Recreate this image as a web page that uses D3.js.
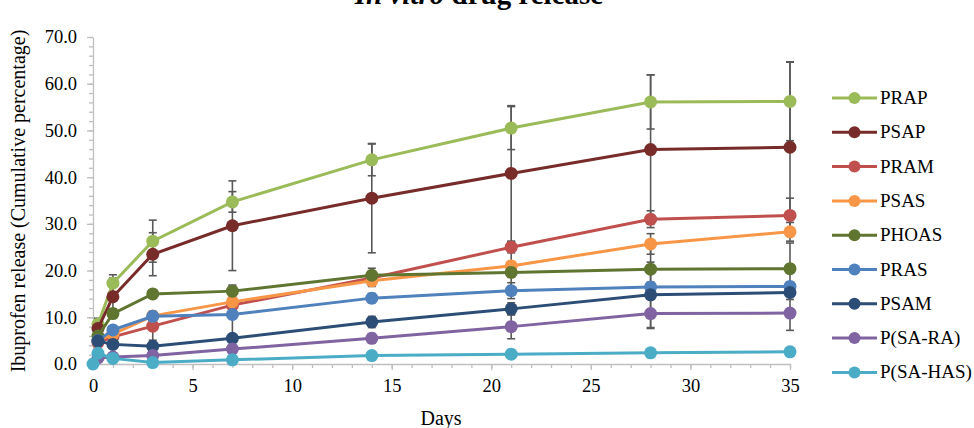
<!DOCTYPE html>
<html>
<head>
<meta charset="utf-8">
<script src="https://cdn.jsdelivr.net/npm/d3@7"></script>
<style>
  body { margin: 0; background: #fff; }
  svg, svg text { font-family: "Liberation Serif", "Times New Roman", Times, "DejaVu Serif", serif !important; }
  .axis path, .axis line { stroke: #bfbfbf; stroke-width: 1.3; }
  .axis text { fill: #000; font-size: 18.5px; }
</style>
</head>
<body>
<script>
// sampling days (first point is a few hours after start)
var days = [0, 0.25, 1, 3, 7, 14, 21, 28, 35];

var seriesNames = ["PRAP", "PSAP", "PRAM", "PSAS", "PHOAS", "PRAS", "PSAM", "P(SA-RA)", "P(SA-HAS)"];
var seriesColors = ["#9bbb59", "#772c2a", "#c0504d", "#f79646", "#5f7530", "#4f81bd", "#2c4d75", "#8064a2", "#4bacc6"];

// cumulative release %, null = no point
var prap    = [null, 8.5, 17.3, 26.3, 34.7, 43.7, 50.5, 56.1, 56.2];
var psap    = [null, 7.6, 14.4, 23.5, 29.6, 35.5, 40.8, 45.9, 46.4];
var pram    = [null, 4.6, 5.8, 8.1, 12.6, 18.4, 25.0, 31.0, 31.8];
var psas    = [null, 5.0, 6.4, 10.3, 13.3, 17.8, 21.0, 25.7, 28.3];
var phoas   = [null, 6.0, 10.8, 15.0, 15.6, 19.0, 19.6, 20.3, 20.4];
var pras    = [null, 5.0, 7.3, 10.2, 10.6, 14.1, 15.7, 16.5, 16.6];
var psam    = [null, 4.9, 4.2, 3.8, 5.5, 9.0, 11.8, 14.8, 15.3];
var psara   = [null, 1.3, 1.5, 1.8, 3.2, 5.5, 8.0, 10.8, 10.9];
var psahas  = [0, 2.3, 1.2, 0.3, 0.9, 1.8, 2.1, 2.4, 2.6];

// standard deviation (error bars)
var prapErr   = [0, 1.3, 1.8, 4.5, 2.2, 3.4, 4.6, 5.8, 8.4];
var psapErr   = [0, 1.0, 4.0, 4.6, 9.6, 11.7, 14.5, 16.0, 18.3];
var pramErr   = [0, 0.5, 0.8, 3.0, 2.0, 1.5, 1.2, 1.8, 3.7];
var psasErr   = [0, 0.5, 0.8, 1.0, 3.6, 1.2, 4.8, 2.2, 2.0];
var phoasErr  = [0, 0.8, 1.0, 0.7, 1.0, 1.5, 1.0, 4.5, 5.5];
var prasErr   = [0, 0.5, 0.8, 0.8, 4.8, 1.0, 1.7, 1.0, 1.0];
var psamErr   = [0, 0.5, 0.5, 0.6, 0.8, 1.2, 1.3, 7.0, 1.5];
var psaraErr  = [0, 0.3, 0.3, 0.5, 0.8, 1.0, 2.6, 3.2, 3.7];
var psahasErr = [0, 0.3, 0.3, 0.3, 0.3, 0.3, 0.3, 0.3, 0.3];

var yTicks = [0, 10, 20, 30, 40, 50, 60, 70];
var xTicks = [0, 5, 10, 15, 20, 25, 30, 35];

var allValues = [prap, psap, pram, psas, phoas, pras, psam, psara, psahas];
var allErrors = [prapErr, psapErr, pramErr, psasErr, phoasErr, prasErr, psamErr, psaraErr, psahasErr];

var serif = "'Liberation Serif', 'Times New Roman', Times, 'DejaVu Serif', serif";

var width = 974, height = 428;
var margin = { top: 37, right: 184, bottom: 64, left: 93 };

var svg = d3.select("body").append("svg")
  .attr("width", width)
  .attr("height", height)
  .attr("font-family", serif);

var x = d3.scaleLinear().domain([0, 35]).range([margin.left, width - margin.right]);
var y = d3.scaleLinear().domain([0, 70]).range([height - margin.bottom, margin.top]);

// build series table from arrays
var series = seriesNames.map(function(name, i) {
  return {
    name: name,
    color: seriesColors[i],
    points: days.map(function(d, j) {
      return { day: d, value: allValues[i][j], err: allErrors[i][j] };
    }).filter(function(p) { return p.value !== null; })
  };
});

// minor ticks
svg.append("g")
  .attr("class", "axis")
  .attr("transform", "translate(" + margin.left + ",0)")
  .call(d3.axisLeft(y).ticks(35).tickSize(4).tickFormat(""))
  .select(".domain").remove();
svg.append("g")
  .attr("class", "axis")
  .attr("transform", "translate(0," + y(0) + ")")
  .call(d3.axisBottom(x).ticks(35).tickSize(4).tickFormat(""))
  .select(".domain").remove();

// major axes
var yAxisG = svg.append("g")
  .attr("class", "axis")
  .attr("transform", "translate(" + margin.left + ",0)")
  .call(d3.axisLeft(y).tickValues(yTicks).tickSize(6).tickSizeOuter(0).tickPadding(10)
    .tickFormat(d3.format(".1f")));
var xAxisG = svg.append("g")
  .attr("class", "axis")
  .attr("transform", "translate(0," + y(0) + ")")
  .call(d3.axisBottom(x).tickValues(xTicks).tickSize(6).tickSizeOuter(0).tickPadding(9));
yAxisG.attr("font-family", serif);
xAxisG.attr("font-family", serif);

// error bars
var eb = svg.append("g").attr("stroke", "#595959").attr("stroke-width", 1.6);
series.forEach(function(s) {
  s.points.forEach(function(p) {
    if (!p.err) return;
    var cx = x(p.day);
    eb.append("line").attr("x1", cx).attr("x2", cx)
      .attr("y1", y(p.value - p.err)).attr("y2", y(p.value + p.err));
    [p.value - p.err, p.value + p.err].forEach(function(v) {
      eb.append("line").attr("x1", cx - 4).attr("x2", cx + 4)
        .attr("y1", y(v)).attr("y2", y(v));
    });
  });
});

var line = d3.line()
  .x(function(d) { return x(d.day); })
  .y(function(d) { return y(d.value); });

series.forEach(function(s) {
  var g = svg.append("g");
  g.append("path")
    .attr("d", line(s.points))
    .attr("fill", "none")
    .attr("stroke", s.color)
    .attr("stroke-width", 3);
  g.selectAll("circle").data(s.points).enter().append("circle")
    .attr("cx", function(d) { return x(d.day); })
    .attr("cy", function(d) { return y(d.value); })
    .attr("r", 6.5)
    .attr("fill", s.color);
});

// legend
var legend = svg.append("g");
series.forEach(function(s, i) {
  var ly = 98 + i * 34.3;
  legend.append("line")
    .attr("x1", 832).attr("x2", 877).attr("y1", ly).attr("y2", ly)
    .attr("stroke", s.color).attr("stroke-width", 3);
  legend.append("circle").attr("cx", 854.5).attr("cy", ly).attr("r", 6).attr("fill", s.color);
  legend.append("text")
    .attr("x", 880).attr("y", ly + 6)
    .attr("font-size", 19)
    .attr("font-family", serif)
    .text(s.name);
});

// title, partly cut by top edge as in the source
var title = svg.append("text")
  .attr("x", 479).attr("y", 4)
  .attr("text-anchor", "middle")
  .attr("font-size", 29)
  .attr("font-family", serif)
  .attr("font-weight", "bold");
title.append("tspan").attr("font-style", "italic").text("In vitro");
title.append("tspan").text(" drug release");

// axis titles
svg.append("text")
  .attr("transform", "translate(25," + 201 + ") rotate(-90)")
  .attr("text-anchor", "middle")
  .attr("font-size", 20)
  .attr("font-family", serif)
  .text("Ibuprofen release (Cumulative percentage)");

svg.append("text")
  .attr("x", 441).attr("y", 425)
  .attr("text-anchor", "middle")
  .attr("font-size", 20)
  .attr("font-family", serif)
  .text("Days");
</script>
</body>
</html>
